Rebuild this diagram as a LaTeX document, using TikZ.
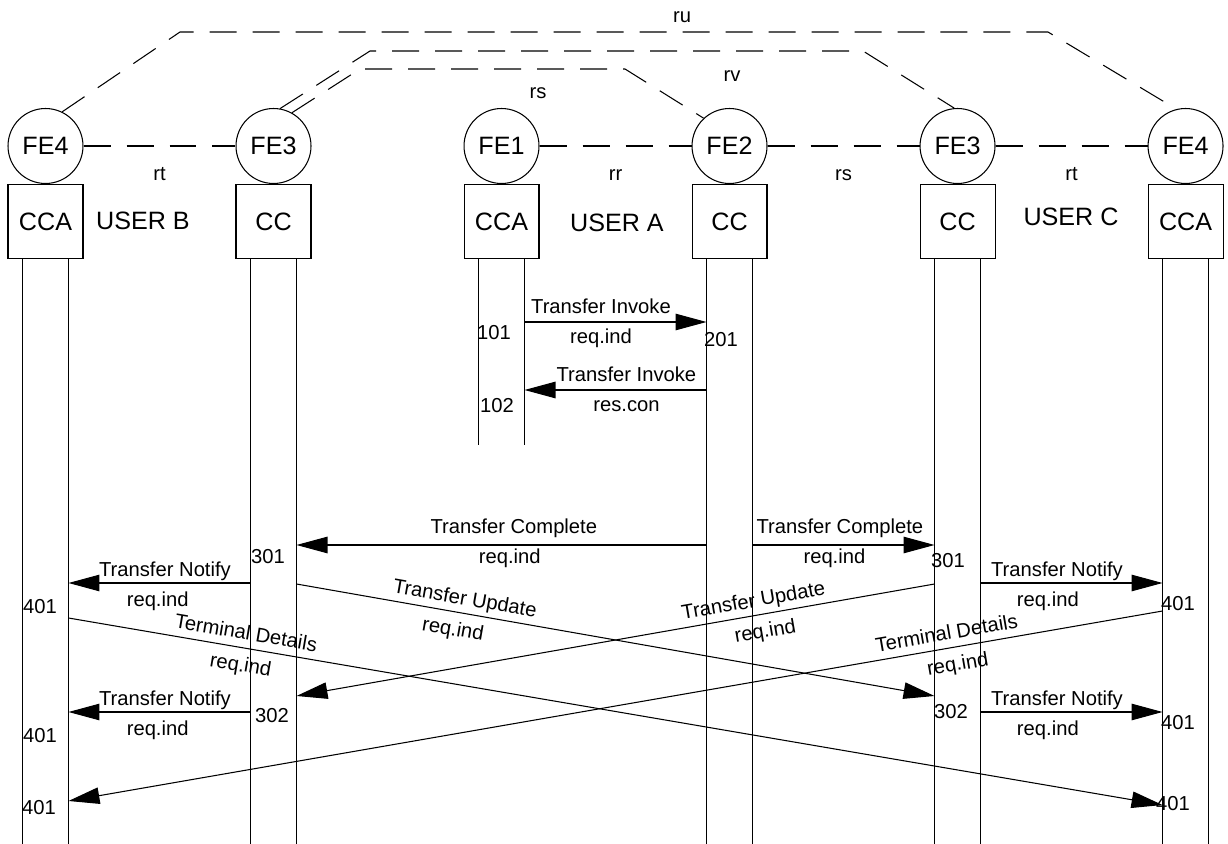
\documentclass[tikz,border=0pt]{standalone}
\usepackage{fontspec}
\setmainfont{Liberation Sans}
\usetikzlibrary{positioning,arrows.meta}
\tikzset{
  fe/.style   = {draw, circle, minimum size=1.5cm, inner sep=0pt, font=\fontsize{14.3}{17}\selectfont},
  blk/.style  = {draw, minimum width=1.5cm, minimum height=1.48cm, inner sep=0pt, font=\fontsize{14.3}{17}\selectfont},
  usr/.style  = {inner sep=0pt, font=\fontsize{14.3}{17}\selectfont},
  lbl/.style  = {inner sep=1pt, text height=8.2pt, text depth=2.4pt, font=\fontsize{11.5}{13}\selectfont},
  rel/.style  = {dash pattern=on 0.54cm off 0.32cm},
  msg/.style  = {-{Triangle[length=0.62cm,width=0.33cm]}},
}

\begin{document}
\begin{tikzpicture}[x=0.02cm, y=-0.02cm, line width=0.6pt]
  \useasboundingbox (0,0) rectangle (1228,844);

  % functional entities and their boxes
  \node[fe] (fe4l) at (45.5,146) {FE4};
  \node[fe, right=3.04cm of fe4l] (fe3l) {FE3};
  \node[fe, right=3.04cm of fe3l] (fe1) {FE1};
  \node[fe, right=3.04cm of fe1] (fe2) {FE2};
  \node[fe, right=3.04cm of fe2] (fe3r) {FE3};
  \node[fe, right=3.04cm of fe3r] (fe4r) {FE4};

  \node[blk, below=0pt of fe4l] (cca4l) {CCA};
  \node[blk, below=0pt of fe3l] (cc3l) {CC};
  \node[blk, below=0pt of fe1] (cca1) {CCA};
  \node[blk, below=0pt of fe2] (cc2) {CC};
  \node[blk, below=0pt of fe3r] (cc3r) {CC};
  \node[blk, below=0pt of fe4r] (cca4r) {CCA};

  \node[usr] (userb) at (143,221) {USER B};
  \node[usr] (usera) at (617,223) {USER A};
  \node[usr] (userc) at (1071,217) {USER C};

  % relationships
  \draw[rel] (fe4l) -- node[lbl, below=10pt] {rt} (fe3l);
  \draw[rel] (fe1) -- node[lbl, below=10pt] {rr} (fe2);
  \draw[rel] (fe2) -- node[lbl, below=10pt] {rs} (fe3r);
  \draw[rel] (fe3r) -- node[lbl, below=10pt] {rt} (fe4r);
  \draw[rel] (fe4l.64) -- (180,32) -- (1048,32) -- (fe4r.104);
  \draw[rel] (fe3l.80) -- (370,51) -- (863,51) -- (fe3r.95);
  \draw[rel] (fe3l.61) -- (360,69) -- (625,69) -- (fe2.133);
  \node[lbl] (ru) at (682,17) {ru};
  \node[lbl] (rv) at (732,76) {rv};
  \node[lbl] (rs) at (538,93) {rs};

  % lifelines
  \foreach \b/\e in {cca4l/844, cc3l/844, cca1/445, cc2/844, cc3r/844, cca4r/844} {
    \coordinate (L\b) at ([xshift=-0.46cm]\b.south);
    \coordinate (R\b) at ([xshift=0.46cm]\b.south);
    \draw (L\b) -- (L\b |- 0,\e);
    \draw (R\b) -- (R\b |- 0,\e);
  }

  % transfer invoke
  \draw[msg] (Rcca1 |- 0,322) -- node[lbl, pos=0.42, above=1pt] {Transfer Invoke}
    node[lbl, pos=0.42, below=3pt] {req.ind} (Lcc2 |- 0,322);
  \draw[msg] (Lcc2 |- 0,390) -- node[lbl, pos=0.44, above=1pt] {Transfer Invoke}
    node[lbl, pos=0.44, below=3pt] {res.con} (Rcca1 |- 0,390);
  \node[lbl] (n101) at (494,334) {101};
  \node[lbl] (n102) at (497,407) {102};
  \node[lbl] (n201) at (721,341) {201};

  % transfer complete
  \draw[msg] (Lcc2 |- 0,545) -- node[lbl, pos=0.47, above=3pt] {Transfer Complete}
    node[lbl, pos=0.48, below=1pt] {req.ind} (Rcc3l |- 0,545);
  \draw[msg] (Rcc2 |- 0,545) -- node[lbl, pos=0.48, above=3pt] {Transfer Complete}
    node[lbl, pos=0.45, below=1pt] {req.ind} (Lcc3r |- 0,545);
  \node[lbl] (n301l) at (268,558) {301};
  \node[lbl] (n301r) at (948,562) {301};

  % transfer notify
  \foreach \y/\n in {583/1, 712/2} {
    \draw[msg] (Lcc3l |- 0,\y) -- node[lbl, pos=0.47, above=0pt] {Transfer Notify}
      node[lbl, pos=0.51, below=4pt] {req.ind} (Rcca4l |- 0,\y);
    \draw[msg] (Rcc3r |- 0,\y) -- node[lbl, pos=0.42, above=0pt] {Transfer Notify}
      node[lbl, pos=0.37, below=4pt] {req.ind} (Lcca4r |- 0,\y);
  }
  \node[lbl] (n302l) at (272,717) {302};
  \node[lbl] (n302r) at (951,713) {302};

  % transfer update
  \draw[msg] (Rcc3l |- 0,584) -- node[lbl, sloped, pos=0.26, above=1pt] {Transfer Update}
    node[lbl, sloped, pos=0.25, below=4pt] {req.ind} (Lcc3r |- 0,696);
  \draw[msg] (Lcc3r |- 0,584) -- node[lbl, sloped, pos=0.28, above=1pt] {Transfer Update}
    node[lbl, sloped, pos=0.27, below=4pt] {req.ind} (Rcc3l |- 0,696);

  % terminal details
  \draw[msg] (Rcca4l |- 0,618) -- node[lbl, sloped, pos=0.16, above=1pt] {Terminal Details}
    node[lbl, sloped, pos=0.16, below=4pt] {req.ind} (Lcca4r |- 0,805);
  \draw[msg] (Lcca4r |- 0,611) -- node[lbl, sloped, pos=0.195, above=1pt] {Terminal Details}
    node[lbl, sloped, pos=0.19, below=4pt] {req.ind} (Rcca4l |- 0,801);

  \node[lbl] (n401a) at (40,608) {401};
  \node[lbl] (n401b) at (40,737) {401};
  \node[lbl] (n401c) at (39,809) {401};
  \node[lbl] (n401d) at (1178,605) {401};
  \node[lbl] (n401e) at (1178,724) {401};
  \node[lbl] (n401f) at (1173,805) {401};
\end{tikzpicture}
\end{document}
